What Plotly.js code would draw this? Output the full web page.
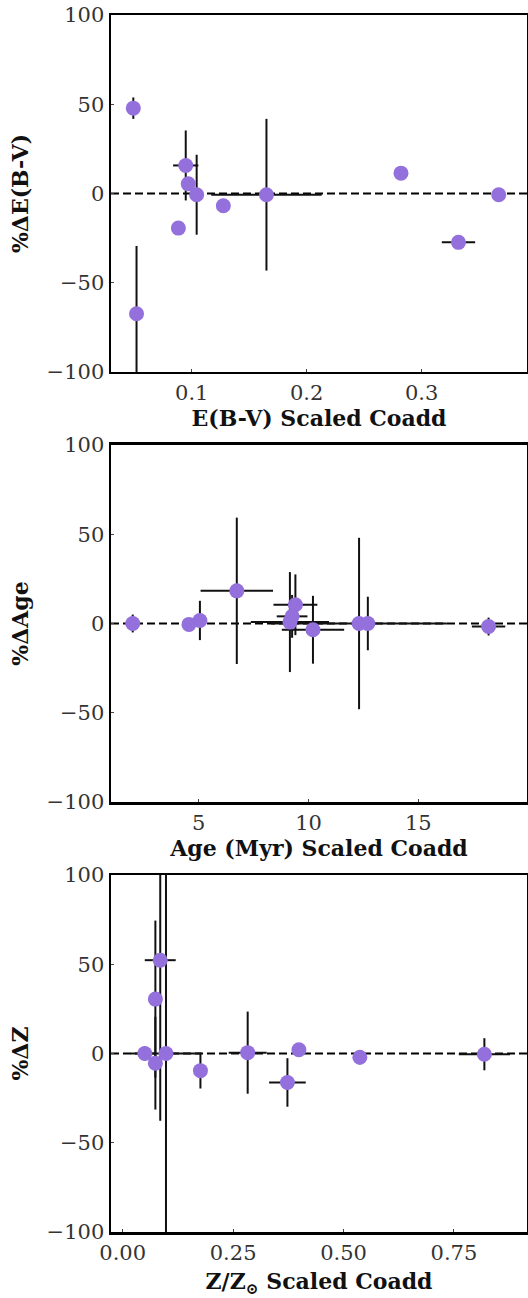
<!DOCTYPE html>
<html>
<head>
<meta charset="utf-8">
<script src="https://cdn.plot.ly/plotly-3.0.1.min.js"></script>
<style>html,body{margin:0;padding:0;background:#fff;}#chart{width:528px;height:1298px;}</style>
</head>
<body>
<div id="chart"></div>
<script>
// Panel 1: E(B-V)
var ebvX    = [0.0492, 0.052, 0.0884, 0.0948, 0.097, 0.1043, 0.1275, 0.165, 0.282, 0.332, 0.367];
var ebvY    = [47.8, -67.4, -19.4, 15.7, 5.4, -0.7, -6.9, -0.7, 11.4, -27.4, -0.7];
var ebvXerr = [0, 0, 0, 0.011, 0, 0, 0, 0.048, 0, 0.0145, 0];
var ebvYerr = [6, 38, 0, 19.6, 0, 22.4, 0, 42.5, 0, 3, 0];
// Panel 2: Age (Myr)
var ageX    = [1.99, 4.55, 5.05, 6.73, 9.4, 9.25, 9.15, 10.2, 12.3, 12.7, 18.2];
var ageY    = [0, -0.5, 1.7, 18.3, 10.5, 4, 0.8, -3.5, 0, 0, -1.7];
var ageXerr = [0, 0, 0, 1.65, 1.0, 0.7, 1.78, 1.42, 4.0, 0, 0.76];
var ageYerr = [5, 0, 11, 41, 17, 12, 28, 19, 48, 15, 5];
// Panel 3: Z/Zsun
var zX    = [0.05, 0.074, 0.074, 0.085, 0.098, 0.176, 0.283, 0.373, 0.399, 0.537, 0.819];
var zY    = [0, 30.5, -5.4, 52.3, 0, -9.6, 0.5, -16.2, 2.1, -2.1, -0.4];
var zXerr = [0, 0, 0, 0.035, 0.08, 0, 0.043, 0.0415, 0, 0, 0.058];
var zYerr = [4, 44, 26, 90, 150, 10, 23, 13.6, 0, 4, 9];

var xTicks1 = [0.1, 0.2, 0.3];
var xTicks2 = [5, 10, 15];
var xTicks3 = [0.00, 0.25, 0.50, 0.75];
var yTicks  = [-100, -50, 0, 50, 100];

var purple = '#9370DB';
function tr(x, y, xe, ye, ax) {
  return {
    type: 'scatter', mode: 'markers', x: x, y: y,
    xaxis: 'x' + ax, yaxis: 'y' + ax,
    marker: {color: purple, size: 15, line: {width: 0}},
    error_x: {type: 'data', array: xe, color: '#111', thickness: 2, width: 0},
    error_y: {type: 'data', array: ye, color: '#111', thickness: 2, width: 0},
    showlegend: false, hoverinfo: 'x+y'
  };
}
var data = [tr(ebvX, ebvY, ebvXerr, ebvYerr, ''), tr(ageX, ageY, ageXerr, ageYerr, '2'), tr(zX, zY, zXerr, zYerr, '3')];

var tickFont = {family: 'DejaVu Serif', size: 21, color: '#333'};
var titleFont = {family: 'DejaVu Serif', size: 22, color: '#111', weight: 'bold'};
function xa(range, tv, fmt, title, anchor, standoff) {
  return {range: range, tickvals: tv, tickformat: fmt, anchor: anchor,
    showline: true, mirror: true, linewidth: 2.5, linecolor: '#000',
    ticks: 'inside', ticklen: 3, tickwidth: 1, tickcolor: '#444',
    showgrid: false, zeroline: false, tickfont: tickFont,
    title: {text: title, font: titleFont, standoff: standoff}};
}
function ya(domain, title, anchor) {
  return {range: [-100, 100], domain: domain, tickvals: yTicks, anchor: anchor,
    showline: true, mirror: true, linewidth: 2.5, linecolor: '#000',
    ticks: 'inside', ticklen: 3, tickwidth: 1, tickcolor: '#444',
    showgrid: false, zeroline: false, tickfont: tickFont,
    title: {text: title, font: titleFont, standoff: 12}};
}
function zeroLine(ax) {
  return {type: 'line', xref: 'x' + ax + ' domain', yref: 'y' + ax, x0: 0, x1: 1, y0: 0, y1: 0,
    line: {color: '#000', width: 2, dash: '8px,4px'}, layer: 'below'};
}
var layout = {
  width: 528, height: 1298,
  margin: {l: 111, r: 1, t: 15, b: 66},
  paper_bgcolor: '#fff', plot_bgcolor: '#fff',
  xaxis:  xa([0.0298, 0.3916], xTicks1, '.1f', 'E(B-V) Scaled Coadd', 'y', 6),
  yaxis:  ya([0.7067, 1.0], '%ΔE(B-V)', 'x'),
  xaxis2: xa([1.0, 19.95], xTicks2, 'd', 'Age (Myr) Scaled Coadd', 'y2', 6),
  yaxis2: ya([0.3533, 0.6467], '%ΔAge', 'x2'),
  xaxis3: xa([-0.0265, 0.9155], xTicks3, '.2f', 'Z/Z<sub>⊙</sub> Scaled Coadd', 'y3', 14),
  yaxis3: ya([0, 0.2933], '%ΔZ', 'x3'),
  shapes: [zeroLine(''), zeroLine('2'), zeroLine('3')]
};
Plotly.newPlot('chart', data, layout, {displayModeBar: false, staticPlot: true});
</script>
</body>
</html>
